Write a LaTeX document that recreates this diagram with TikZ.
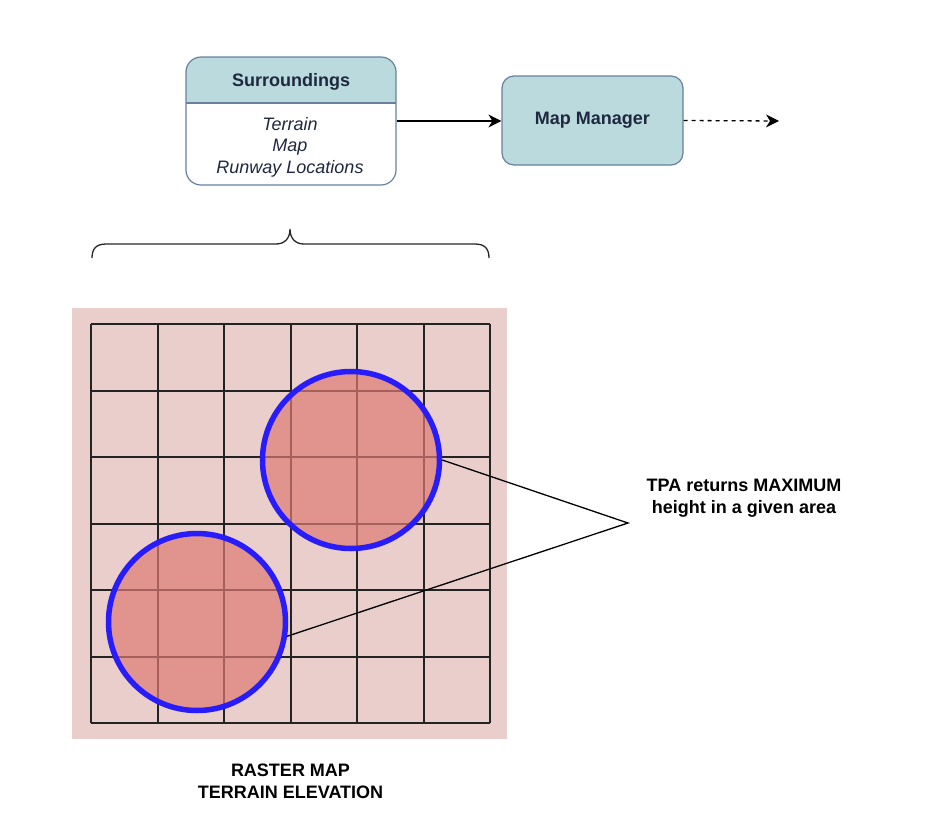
\documentclass[tikz,border=0pt]{standalone}
\usepackage{fontspec}
\setmainfont{Liberation Sans}
\usetikzlibrary{arrows.meta}
\definecolor{hdr}{RGB}{186,218,221}
\definecolor{bord}{RGB}{104,128,158}
\definecolor{navy}{RGB}{30,40,62}
\definecolor{mapbg}{RGB}{233,206,203}
\definecolor{circfill}{RGB}{223,123,117}
\definecolor{circline}{RGB}{40,28,250}
\definecolor{gridc}{RGB}{35,35,35}
\tikzset{
  boxtxt/.style={font=\fontsize{18}{21.6}\selectfont, text=navy, align=center},
  bigtxt/.style={font=\fontsize{18}{21.6}\selectfont\bfseries, text=black, align=center},
  zone/.style={circle, draw=circline, line width=5.5pt, fill=circfill, fill opacity=0.7, draw opacity=1, minimum size=177pt, inner sep=0pt},
  conn/.style={draw=black, line width=1.3pt},
  tip/.style={-{Stealth[length=13pt,width=13pt,inset=4pt]}}
}
\begin{document}
\begin{tikzpicture}[x=1pt,y=-1pt]
\useasboundingbox (0,0) rectangle (927,820);
% Surroundings box
\begin{scope}
\clip[rounded corners=15pt] (186,57) rectangle (396,185);
\fill[white] (186,57) rectangle (396,185);
\fill[hdr] (186,57) rectangle (396,103);
\end{scope}
\node[draw=bord, line width=1.2pt, rounded corners=15pt, minimum width=210pt, minimum height=128pt, inner sep=0pt] (sur) at (291,121) {};
\draw[bord, line width=1.2pt] (186,103) -- (396,103);
\node[boxtxt, font=\fontsize{18}{21.6}\selectfont\bfseries, inner sep=0pt] (surT) at (291,81.5) {Surroundings};
\node[boxtxt, font=\fontsize{18}{21.6}\selectfont\itshape, inner sep=0pt] (surB) at (290,147) {Terrain\\Map\\Runway Locations};
% Map manager
\node[draw=bord, fill=hdr, line width=1.2pt, rounded corners=12pt, minimum width=181pt, minimum height=89pt, inner sep=0pt] (mm) at (592.5,120.5) {};
\node[boxtxt, font=\fontsize{18}{21.6}\selectfont\bfseries, inner sep=0pt] (mmT) at (mm) {Map Manager};
\coordinate (out) at (779,121);
\draw[conn, tip] (sur.east) -- (sur.east -| mm.west);
\draw[conn, tip, dash pattern=on 4pt off 4pt] (mm.east) -- (out);
% brace
\draw[black!85, line width=1.3pt] (92,258) .. controls (92,249) and (96,244) .. (106,244) -- (276,244) .. controls (285,244) and (290,238) .. (290,229) .. controls (290,238) and (295,244) .. (304,244) -- (475,244) .. controls (485,244) and (489,249) .. (489,258);
% raster map
\fill[mapbg] (72,308) rectangle (507,739);
\foreach \p in {91,158,224,291,357,424,490}{
  \draw[gridc, line width=1.5pt] (\p,324) -- (\p,723);
}
\foreach \p in {324,391,457,524,590,657,723}{
  \draw[gridc, line width=1.5pt] (91,\p) -- (490,\p);
}
\node[zone] (c1) at (351,460) {};
\node[zone] (c2) at (197,622) {};
\coordinate (meet) at (628,523);
\draw[conn] (c1.east) -- (meet) -- (c2.-9);
\node[bigtxt, inner sep=0pt] (tpa) at (744,498) {TPA returns MAXIMUM\\height in a given area};
\node[bigtxt, inner sep=0pt] (rm) at (290.5,781) {RASTER MAP\\TERRAIN ELEVATION};
\end{tikzpicture}
\end{document}
